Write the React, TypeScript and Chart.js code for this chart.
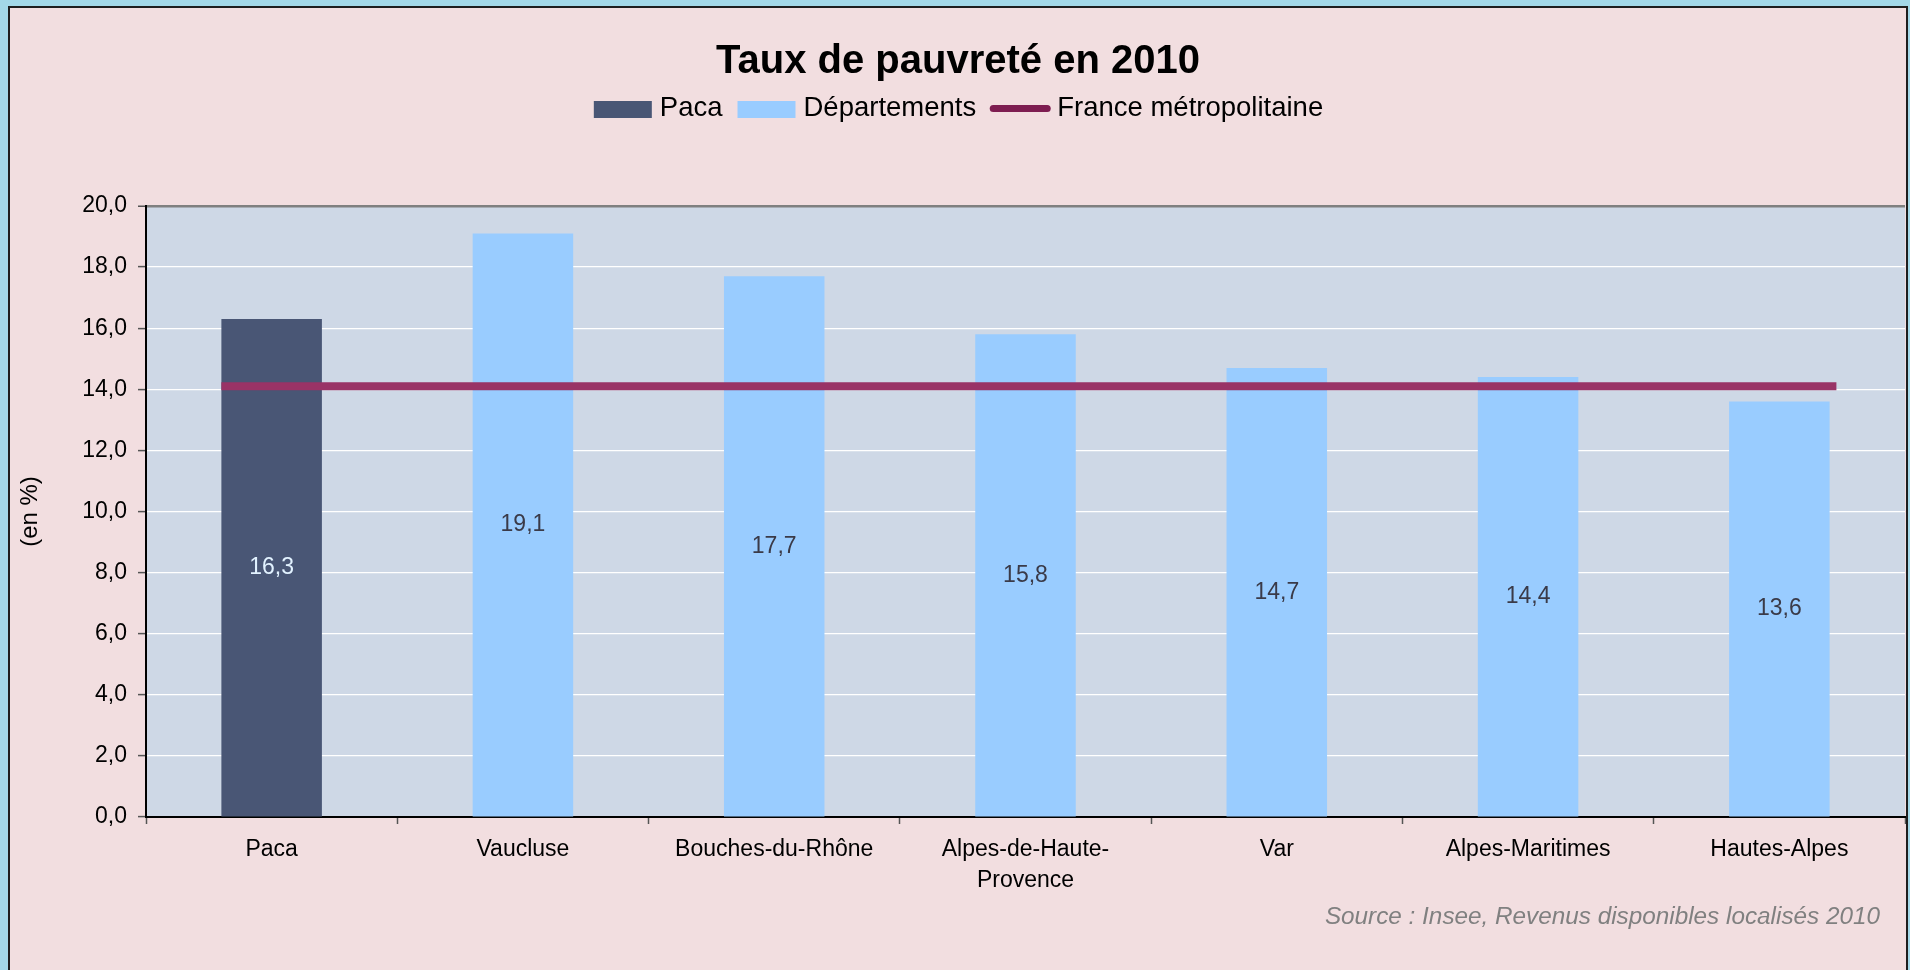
import React, { useEffect, useRef } from "react";
import { Chart, registerables } from "chart.js";

Chart.register(...registerables);

const categories: (string | string[])[] = [
  "Paca",
  "Vaucluse",
  "Bouches-du-Rhône",
  ["Alpes-de-Haute-", "Provence"],
  "Var",
  "Alpes-Maritimes",
  "Hautes-Alpes",
];
const pacaValues = [16.3, null, null, null, null, null, null];
const departementValues = [null, 19.1, 17.7, 15.8, 14.7, 14.4, 13.6];
const franceValues = [14.1, 14.1, 14.1, 14.1, 14.1, 14.1, 14.1];
const seriesNames = ["Paca", "Départements", "France métropolitaine"];
const yTicks = { min: 0, max: 20, step: 2 };
const titleText = "Taux de pauvreté en 2010";
const yTitle = "(en %)";
const sourceText = "Source : Insee, Revenus disponibles localisés 2010";

const FONT = "'Liberation Sans', Arial, sans-serif";
const PINK = "#F2DEE0";
const PLOT_BG = "#CED8E6";
const PACA_COLOR = "#495675";
const DEP_COLOR = "#99CCFF";
const LINE_COLOR = "#993366";
const LEGEND_LINE_COLOR = "#7E1D51";

const fmt = (v: number) => v.toFixed(1).replace(".", ",");

const plotBgPlugin = {
  id: "plotBg",
  beforeDraw(chart: any) {
    const { ctx, chartArea: a } = chart;
    ctx.save();
    ctx.fillStyle = PLOT_BG;
    ctx.fillRect(a.left, a.top, a.right - a.left, a.bottom - a.top);
    ctx.restore();
  },
};

const franceLinePlugin = {
  id: "franceLine",
  afterDatasetsDraw(chart: any) {
    const meta = chart.getDatasetMeta(2);
    const pts = meta.data;
    if (!pts || !pts.length) return;
    const xs = chart.scales.x;
    const step = (xs.right - xs.left) / categories.length;
    const ctx = chart.ctx;
    ctx.save();
    ctx.strokeStyle = LINE_COLOR;
    ctx.lineWidth = 8;
    ctx.lineCap = "butt";
    ctx.beginPath();
    ctx.moveTo(pts[0].x - step * 0.2, pts[0].y);
    for (const p of pts) ctx.lineTo(p.x, p.y);
    const last = pts[pts.length - 1];
    ctx.lineTo(last.x + step * 0.227, last.y);
    ctx.stroke();
    ctx.restore();
  },
};

const dataLabelPlugin = {
  id: "dataLabels",
  afterDraw(chart: any) {
    const ctx = chart.ctx;
    ctx.save();
    ctx.font = `23px ${FONT}`;
    ctx.textAlign = "center";
    ctx.textBaseline = "middle";
    [0, 1].forEach((di) => {
      const meta = chart.getDatasetMeta(di);
      const data = chart.data.datasets[di].data;
      meta.data.forEach((bar: any, i: number) => {
        const v = data[i];
        if (v === null || v === undefined) return;
        ctx.fillStyle = di === 0 ? "#E2F2FF" : "#3A3A48";
        ctx.fillText(fmt(v), bar.x, (bar.y + bar.base) / 2);
      });
    });
    ctx.restore();
  },
};

const headerPlugin = {
  id: "header",
  afterDraw(chart: any) {
    const ctx = chart.ctx;
    const cx = 948.5;
    ctx.save();
    // title
    ctx.fillStyle = "#000";
    ctx.font = `bold 40px ${FONT}`;
    ctx.textAlign = "center";
    ctx.textBaseline = "alphabetic";
    ctx.fillText(titleText, 948, 65);
    // legend
    ctx.font = `27.5px ${FONT}`;
    const sw = 58;
    const gap = 8;
    const spacing = 15;
    const widths = seriesNames.map((n) => ctx.measureText(n).width);
    const total = widths.reduce((s, w) => s + sw + gap + w, 0) + spacing * (seriesNames.length - 1);
    let x = cx - total / 2;
    const boxTop = 93;
    const boxH = 17;
    const baseline = 107.7;
    ctx.textAlign = "left";
    seriesNames.forEach((name, i) => {
      if (i === 2) {
        ctx.strokeStyle = LEGEND_LINE_COLOR;
        ctx.lineWidth = 7;
        ctx.lineCap = "round";
        ctx.beginPath();
        ctx.moveTo(x + 2, boxTop + boxH / 2 - 1);
        ctx.lineTo(x + sw - 2, boxTop + boxH / 2 - 1);
        ctx.stroke();
      } else {
        ctx.fillStyle = i === 0 ? PACA_COLOR : DEP_COLOR;
        ctx.fillRect(x, boxTop, sw, boxH);
      }
      ctx.fillStyle = "#000";
      ctx.fillText(name, x + sw + gap, baseline);
      x += sw + gap + widths[i] + spacing;
    });
    // source
    ctx.font = `italic 24.3px ${FONT}`;
    ctx.fillStyle = "#808080";
    ctx.textAlign = "right";
    ctx.fillText(sourceText, 1870, 916);
    ctx.restore();
  },
};

export default function App() {
  const ref = useRef<HTMLCanvasElement | null>(null);

  useEffect(() => {
    document.body.style.margin = "0";
    document.body.style.background = "#A3D8E8";
    document.body.style.overflow = "hidden";
    const canvas = ref.current;
    if (!canvas) return;
    const chart = new Chart(canvas, {
      type: "bar",
      data: {
        labels: categories as any,
        datasets: [
          {
            label: seriesNames[0],
            data: pacaValues as any,
            backgroundColor: PACA_COLOR,
            grouped: false,
            categoryPercentage: 1,
            barPercentage: 0.4,
            order: 2,
          } as any,
          {
            label: seriesNames[1],
            data: departementValues as any,
            backgroundColor: DEP_COLOR,
            grouped: false,
            categoryPercentage: 1,
            barPercentage: 0.4,
            order: 2,
          } as any,
          {
            type: "line",
            label: seriesNames[2],
            data: franceValues,
            borderColor: LINE_COLOR,
            borderWidth: 0,
            pointRadius: 0,
            showLine: false,
            order: 1,
          } as any,
        ],
      },
      options: {
        animation: false,
        responsive: false,
        devicePixelRatio: 1,
        layout: { padding: { top: 198, left: 0, right: 1, bottom: 43 } },
        plugins: {
          legend: { display: false },
          title: { display: false },
          tooltip: { enabled: false },
        },
        scales: {
          x: {
            offset: true,
            grid: {
              offset: true,
              drawOnChartArea: false,
              drawTicks: true,
              tickLength: 7,
              tickColor: "#555555",
              tickWidth: 1.5,
            },
            border: { display: true, color: "#000000", width: 2 },
            ticks: {
              color: "#000000",
              font: { family: FONT, size: 23, lineHeight: 1.35 },
              padding: 10,
              maxRotation: 0,
              autoSkip: false,
            },
            afterFit: (s: any) => {
              s.height = 110;
            },
          },
          y: {
            min: yTicks.min,
            max: yTicks.max,
            ticks: {
              stepSize: yTicks.step,
              color: "#000000",
              font: { family: FONT, size: 23 },
              padding: 11,
              callback: (v: any) => fmt(Number(v)),
            },
            grid: {
              color: (c: any) =>
                c.tick && c.tick.value === yTicks.max
                  ? "#808080"
                  : c.tick && c.tick.value === yTicks.min
                  ? "rgba(0,0,0,0)"
                  : "#FFFFFF",
              lineWidth: (c: any) => (c.tick && c.tick.value === yTicks.max ? 2.5 : 1.2),
              tickColor: "#555555",
              tickLength: 8,
              tickWidth: 1.5,
            },
            border: { display: true, color: "#000000", width: 2 },
            title: {
              display: true,
              text: yTitle,
              color: "#000000",
              font: { family: FONT, size: 24 },
              padding: { top: 6, bottom: 0 },
            },
            afterFit: (s: any) => {
              s.width = 136;
            },
          },
        },
      },
      plugins: [plotBgPlugin, franceLinePlugin, dataLabelPlugin, headerPlugin],
    });
    return () => chart.destroy();
  }, []);

  return (
    <div
      style={{
        position: "absolute",
        left: 8,
        top: 6,
        width: 1900,
        height: 964,
        boxSizing: "border-box",
        borderTop: "2px solid #1E1E1E",
        borderLeft: "2px solid #1E1E1E",
        borderRight: "2px solid #1E1E1E",
        background: PINK,
        overflow: "hidden",
      }}
    >
      <canvas ref={ref} width={1896} height={962} style={{ display: "block", width: 1896, height: 962 }} />
    </div>
  );
}
